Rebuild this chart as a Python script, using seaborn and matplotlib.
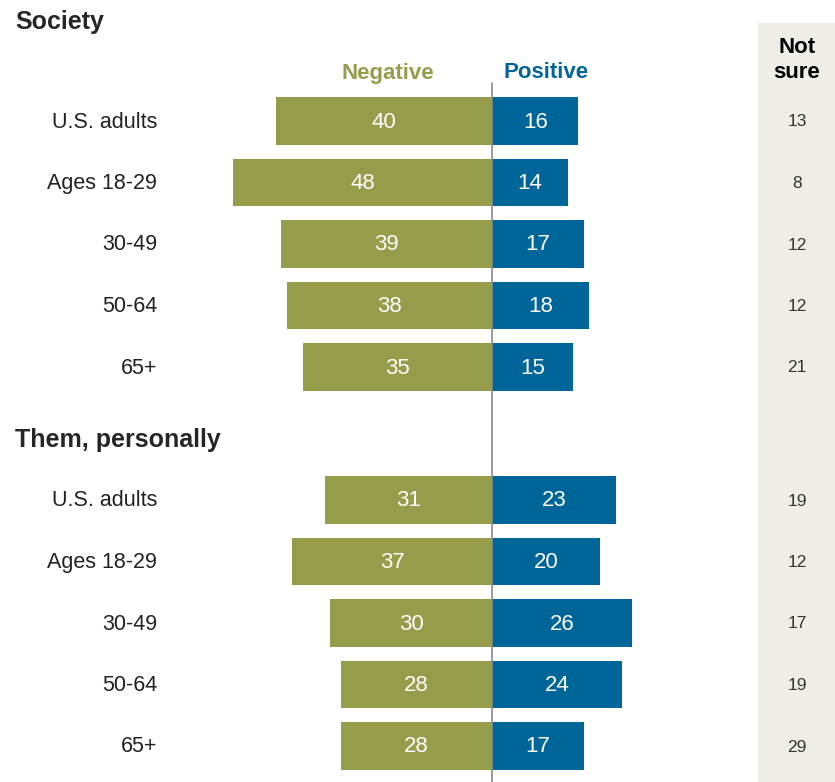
import pandas as pd
import matplotlib.pyplot as plt
import seaborn as sns

# Chart data
groups = ["Society", "Them, personally"]
row_labels = ["U.S. adults", "Ages 18-29", "30-49", "50-64", "65+"]
society_neg = [40, 48, 39, 38, 35]
society_pos = [16, 14, 17, 18, 15]
society_notsure = [13, 8, 12, 12, 21]
personal_neg = [31, 37, 30, 28, 28]
personal_pos = [23, 20, 26, 24, 17]
personal_notsure = [19, 12, 17, 19, 29]

NEG_COLOR = "#959D4A"
POS_COLOR = "#00669A"
PANEL_COLOR = "#EEEEE6"

sns.set_style("white")
plt.rcParams["font.family"] = ["Liberation Sans", "DejaVu Sans"]

# layout in pixel-ish units on the y axis, percent on the x axis
W, H = 835, 782
zero_px = 492
px_per_pt = 5.4
row_gap = 61.5
group_start = [121, 500]

rows = []
for g, (neg, pos, ns) in enumerate([(society_neg, society_pos, society_notsure),
                                    (personal_neg, personal_pos, personal_notsure)]):
    for i, lab in enumerate(row_labels):
        y = group_start[g] + row_gap * i
        rows.append({"y": y, "label": lab, "neg": neg[i], "pos": pos[i], "notsure": ns[i]})
df = pd.DataFrame(rows)
df["neg_x"] = -df["neg"]

fig = plt.figure(figsize=(W / 100, H / 100), dpi=100)
ax = fig.add_axes([0, 0, 1, 1])
xmin = -zero_px / px_per_pt
xmax = (W - zero_px) / px_per_pt
ax.set_xlim(xmin, xmax)
ax.set_ylim(H, 0)

def px(x):
    return (x - zero_px) / px_per_pt

# Not sure panel
ax.axvspan(px(758), xmax, ymin=0, ymax=1 - 23 / H, color=PANEL_COLOR, zorder=0, lw=0)

sns.barplot(data=df, x="neg_x", y="y", orient="h", native_scale=True,
            color=NEG_COLOR, width=0.78, saturation=1, ax=ax, zorder=2, linewidth=0)
sns.barplot(data=df, x="pos", y="y", orient="h", native_scale=True,
            color=POS_COLOR, width=0.78, saturation=1, ax=ax, zorder=2, linewidth=0)
ax.set_xlim(xmin, xmax)
ax.set_ylim(H, 0)

# center divider
ax.plot([0, 0], [83, H], color="#8A8A8A", lw=1.2, zorder=3)

for _, r in df.iterrows():
    ax.text(-r["neg"] / 2, r["y"] + 1, str(r["neg"]), color="white", ha="center",
            va="center", fontsize=16, zorder=4)
    ax.text(r["pos"] / 2, r["y"] + 1, str(r["pos"]), color="white", ha="center",
            va="center", fontsize=16, zorder=4)
    ax.text(px(797), r["y"] + 1, str(r["notsure"]), color="#333333", ha="center",
            va="center", fontsize=12.5, zorder=4)
    ax.text(px(157), r["y"] + 1, r["label"], color="#222222", ha="right",
            va="center", fontsize=15.5, zorder=4)

# headings
ax.text(px(15), 22, groups[0], fontsize=18, fontweight="bold", ha="left", va="center")
ax.text(px(15), 440, groups[1], fontsize=18, fontweight="bold", ha="left", va="center")
ax.text(px(388), 73, "Negative", color=NEG_COLOR, fontsize=16, fontweight="bold",
        ha="center", va="center")
ax.text(px(546), 73, "Positive", color=POS_COLOR, fontsize=16, fontweight="bold",
        ha="center", va="center")
ax.text(px(797), 60, "Not\nsure", color="black", fontsize=16, fontweight="bold",
        ha="center", va="center", linespacing=1.2)

ax.axis("off")
fig.savefig("out.png", dpi=100)
plt.close(fig)
